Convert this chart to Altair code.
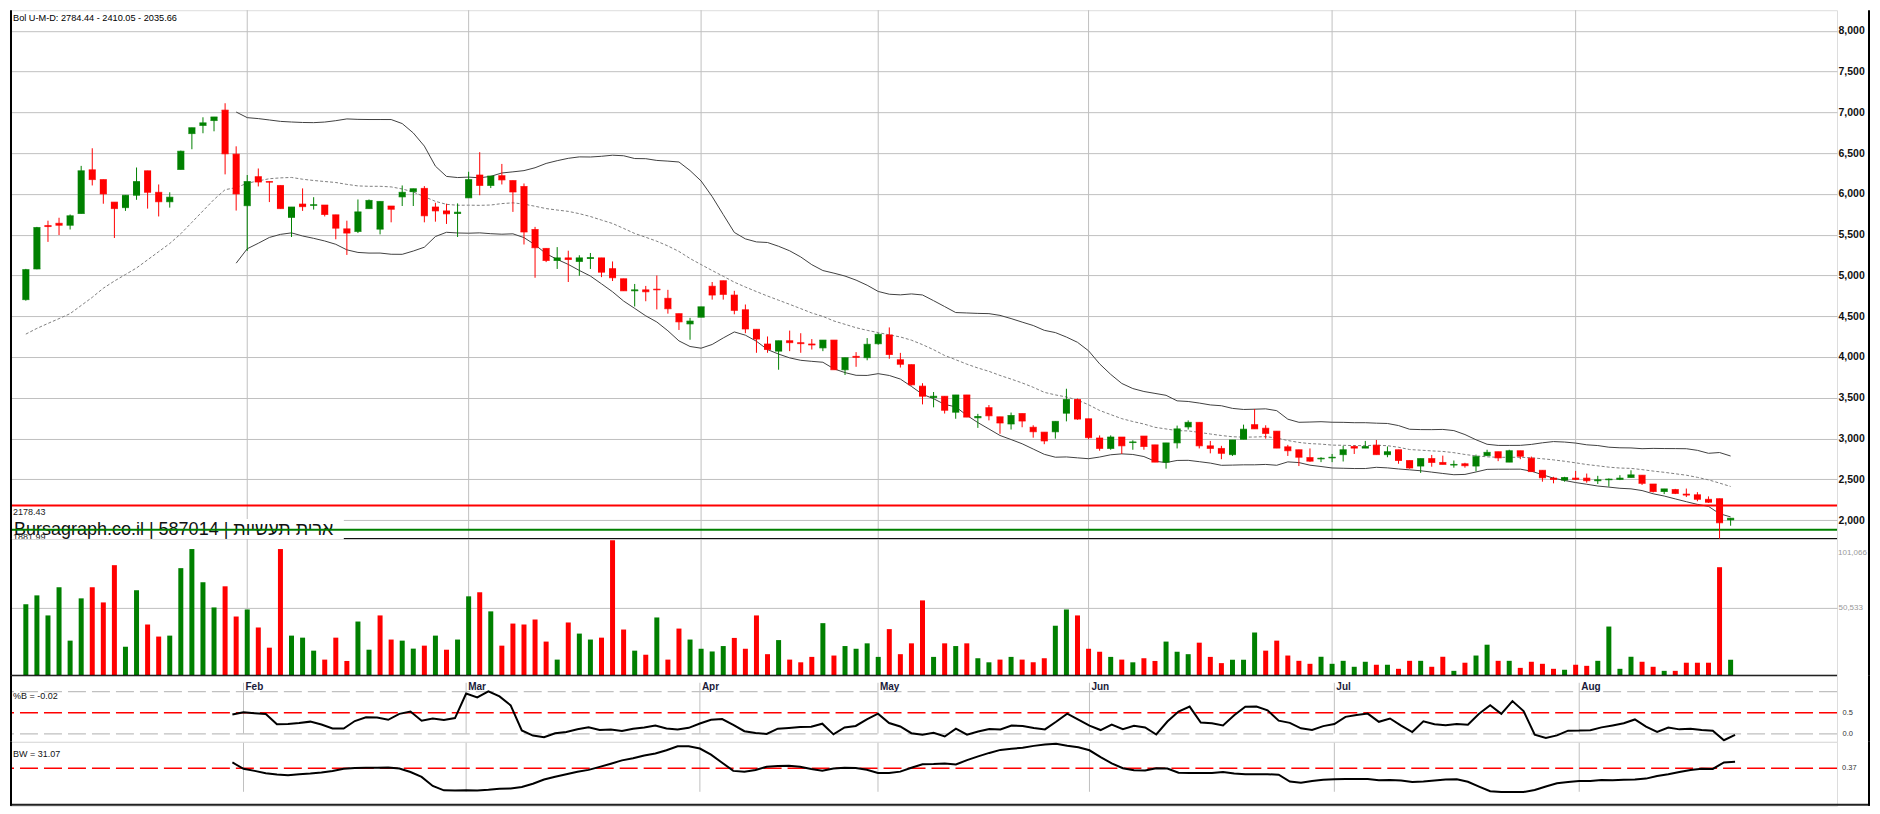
import altair as alt
import pandas as pd

# ---------------- data ----------------
opens = [4703, 5079, 5611, 5639, 5615, 5759, 6295, 6175, 5899, 5831,
         5983, 6283, 6019, 5903, 6299, 6739, 6839, 6899, 7027, 6487,
         5855, 6211, 6151, 6103, 5711, 5875, 5859, 5863, 5743, 5571,
         5539, 5819, 5567, 5851, 5963, 6027, 6067, 5839, 5791, 5759,
         5951, 6231, 6103, 6223, 6163, 6091, 5563, 5331, 5183, 5215,
         5171, 5207, 5215, 5083, 4959, 4811, 4823, 4831, 4719, 4531,
         4405, 4487, 4867, 4935, 4759, 4579, 4339, 4159, 4071, 4199,
         4175, 4159, 4111, 4207, 3843, 4007, 3991, 4162, 4270, 3966,
         3906, 3642, 3502, 3518, 3322, 3534, 3254, 3378, 3266, 3178,
         3306, 3138, 3078, 3082, 3310, 3478, 3242, 3006, 2878, 3018,
         2950, 3030, 2922, 2710, 2946, 3142, 3198, 2910, 2878, 2802,
         2990, 3170, 3126, 3090, 2898, 2862, 2766, 2750, 2762, 2802,
         2902, 2882, 2918, 2802, 2862, 2730, 2662, 2754, 2706, 2674,
         2690, 2662, 2790, 2838, 2710, 2850, 2758, 2610, 2514, 2490,
         2514, 2514, 2482, 2494, 2498, 2522, 2550, 2442, 2350, 2374,
         2318, 2310, 2254, 2262, 2002]
highs = [5080, 5595, 5671, 5707, 5747, 6343, 6559, 6175, 5899, 5983,
         6323, 6283, 6115, 6019, 6530, 6811, 6939, 6943, 7111, 6583,
         6231, 6311, 6151, 6103, 5839, 6067, 5959, 5863, 5743, 5671,
         5931, 5931, 5907, 5851, 6103, 6063, 6095, 5891, 5879, 5883,
         6271, 6511, 6219, 6367, 6163, 6127, 5595, 5331, 5347, 5303,
         5247, 5275, 5215, 5171, 4959, 4895, 4871, 4999, 4823, 4531,
         4479, 4615, 4919, 4935, 4811, 4643, 4339, 4251, 4199, 4323,
         4291, 4219, 4207, 4207, 3991, 4059, 4231, 4290, 4362, 4050,
         3906, 3678, 3570, 3518, 3534, 3534, 3302, 3410, 3266, 3318,
         3306, 3162, 3078, 3210, 3610, 3490, 3242, 3038, 3038, 3018,
         2978, 3030, 2922, 2946, 3158, 3222, 3198, 2970, 2910, 2982,
         3170, 3362, 3162, 3090, 2922, 2862, 2878, 2770, 2810, 2910,
         2918, 2970, 2982, 2902, 2862, 2730, 2754, 2798, 2790, 2730,
         2702, 2802, 2862, 2838, 2862, 2850, 2778, 2610, 2530, 2530,
         2602, 2570, 2542, 2510, 2550, 2610, 2550, 2442, 2382, 2382,
         2386, 2342, 2290, 2262, 2022]
lows = [4690, 5075, 5411, 5495, 5563, 5759, 6103, 5879, 5459, 5791,
        5927, 5819, 5723, 5831, 6299, 6547, 6743, 6767, 6239, 5795,
        5300, 6091, 5899, 5819, 5471, 5791, 5807, 5723, 5443, 5251,
        5519, 5819, 5503, 5651, 5851, 5851, 5651, 5659, 5631, 5471,
        5951, 5983, 6071, 6115, 5779, 5379, 4971, 5163, 5079, 4919,
        4995, 5079, 4979, 4931, 4811, 4619, 4683, 4583, 4531, 4331,
        4211, 4487, 4703, 4703, 4523, 4291, 4051, 4051, 3843, 4071,
        4051, 4091, 4071, 3843, 3779, 3879, 3959, 4150, 3978, 3870,
        3650, 3418, 3382, 3306, 3242, 3262, 3130, 3222, 3058, 3110,
        3138, 3010, 2930, 2998, 3210, 3230, 2990, 2850, 2862, 2810,
        2862, 2862, 2710, 2630, 2878, 3110, 2878, 2818, 2746, 2786,
        2990, 3118, 2998, 2882, 2786, 2662, 2714, 2710, 2710, 2718,
        2810, 2882, 2802, 2770, 2690, 2630, 2578, 2654, 2682, 2642,
        2642, 2598, 2790, 2722, 2710, 2746, 2594, 2470, 2450, 2470,
        2490, 2458, 2442, 2410, 2490, 2522, 2430, 2338, 2318, 2318,
        2282, 2230, 2210, 1770, 1930]
closes = [5071, 5587, 5599, 5615, 5731, 6283, 6175, 5999, 5819, 5983,
          6151, 6019, 5903, 5959, 6523, 6811, 6871, 6943, 6491, 5999,
          6151, 6145, 6143, 5819, 5839, 5843, 5867, 5747, 5579, 5519,
          5779, 5919, 5907, 5811, 6019, 6063, 5731, 5791, 5755, 5775,
          6175, 6103, 6219, 6171, 6023, 5531, 5339, 5183, 5215, 5195,
          5215, 5219, 5039, 4971, 4811, 4823, 4799, 4823, 4591, 4430,
          4440, 4615, 4759, 4767, 4571, 4343, 4219, 4091, 4199, 4175,
          4163, 4147, 4207, 3843, 3991, 3995, 4155, 4278, 4030, 3910,
          3658, 3518, 3518, 3346, 3534, 3262, 3270, 3278, 3190, 3282,
          3214, 3082, 2970, 3210, 3478, 3238, 3010, 2878, 3018, 2910,
          2958, 2902, 2710, 2946, 3118, 3198, 2910, 2878, 2818, 2982,
          3114, 3118, 3062, 2882, 2850, 2770, 2722, 2758, 2770, 2862,
          2882, 2902, 2802, 2838, 2730, 2638, 2754, 2706, 2682, 2682,
          2666, 2778, 2830, 2762, 2850, 2782, 2594, 2518, 2498, 2522,
          2498, 2482, 2494, 2502, 2514, 2554, 2450, 2350, 2382, 2326,
          2306, 2254, 2218, 1966, 2022]
volumes_k = [52.8, 59.4, 44.6, 65.4, 26.0, 57.2, 65.4, 54.2, 81.7, 21.5,
             63.2, 37.9, 29.0, 29.7, 79.5, 93.6, 69.1, 50.5, 66.1, 43.8,
             49.0, 35.7, 20.8, 93.6, 29.7, 28.2, 18.6, 12.0, 28.2, 11.0,
             40.1, 19.3, 44.6, 26.8, 26.0, 20.1, 22.3, 29.7, 19.3, 26.8,
             58.7, 61.7, 47.6, 22.3, 38.6, 37.9, 41.6, 25.3, 12.0, 39.4,
             31.2, 26.8, 28.2, 100.0, 34.2, 18.6, 15.6, 43.1, 12.0, 34.9,
             26.8, 20.0, 18.0, 22.0, 28.0, 20.0, 44.6, 16.0, 26.4, 12.0,
             10.0, 14.0, 38.9, 15.0, 22.0, 20.0, 24.0, 14.0, 34.5, 16.0,
             24.0, 55.7, 14.0, 24.0, 22.0, 24.0, 13.0, 10.0, 12.0, 14.0,
             12.0, 10.0, 13.0, 37.0, 49.0, 44.6, 20.0, 17.8, 14.0, 12.0,
             10.0, 13.0, 11.0, 25.3, 17.8, 16.0, 24.5, 14.0, 9.4, 11.9,
             11.9, 32.0, 18.6, 26.0, 15.0, 11.1, 8.9, 14.1, 8.9, 11.1,
             6.7, 10.4, 8.2, 8.2, 5.2, 11.1, 11.1, 6.7, 14.1, 3.7,
             9.7, 15.0, 23.0, 11.1, 11.1, 5.9, 10.4, 8.9, 5.2, 4.5,
             8.2, 7.4, 11.1, 36.4, 5.2, 14.1, 10.4, 6.7, 3.7, 3.7,
             9.7, 9.7, 9.7, 80.2, 11.9]
# middle band shown before the first full 20-day window (uses older history)
jan_mid = [4280, 4350, 4411, 4470, 4531, 4631, 4731, 4843, 4931, 5011,
           5091, 5191, 5291, 5391, 5511, 5651, 5791, 5931, 6051]
month_start = [20, 40, 61, 77, 96, 118, 140]
month_label = ["Feb", "Mar", "Apr", "May", "Jun", "Jul", "Aug"]
price_ticks = [2000, 2500, 3000, 3500, 4000, 4500, 5000, 5500, 6000, 6500, 7000, 7500, 8000]
volume_ticks = [50533, 101066]
level_values = [2178.43, 1881.99]
pb_guides = [1.0, 0.0]
pb_mid_guide = [0.5]
pb_tick_values = [0.0, 0.5]
bw_guide = [0.266]
bw_guide_label = ["0.37"]
title_text = "Bol U-M-D: 2784.44 - 2410.05 - 2035.66"
pb_text = "%B = -0.02"
bw_text = "BW = 31.07"
watermark = "Bursagraph.co.il | 587014 | ארית תעשיות"

# ---------------- derived indicators (Bollinger 20, 2) ----------------
n = len(closes)
idx = list(range(n))
c = pd.Series(closes, dtype=float)
mid = c.rolling(20).mean()
sd = c.rolling(20).std(ddof=0)
upper = mid + 2 * sd
lower = mid - 2 * sd
mid_line = mid.copy()
mid_line.iloc[:len(jan_mid)] = jan_mid
pctb = (c - lower) / (upper - lower)
bwid = (upper - lower) / mid
prev = c.shift(1)
prev.iloc[0] = c.iloc[0]

candles = pd.DataFrame({
    "i": idx, "open": opens, "high": highs, "low": lows, "close": closes,
    "vol": [v * 1000 for v in volumes_k],
    "dir": ["up" if cl >= op else "down" for op, cl in zip(opens, closes)],
    "vdir": ["up" if c.iloc[k] >= prev.iloc[k] else "down" for k in range(n)],
})
bands = pd.concat([
    pd.DataFrame({"i": idx, "v": upper, "band": "upper"}),
    pd.DataFrame({"i": idx, "v": lower, "band": "lower"}),
]).dropna()
midf = pd.DataFrame({"i": idx, "v": mid_line}).dropna()
ind = pd.DataFrame({"i": idx, "pb": pctb, "bw": bwid}).dropna()
months = pd.DataFrame({"i": month_start, "label": month_label})
one = pd.DataFrame({"a": [0]})

# ---------------- style / layout ----------------
GREEN = "#008000"
RED = "#ff0000"
GRID = "#c0c0c0"
FONT = "Liberation Sans"
W = 1828
HP, HV, HB, HW = 529, 137, 66, 64
RIGHT = W + 32

xs = alt.Scale(domain=[-0.979, 163.16], nice=False, zero=False)
X = alt.X("i:Q", scale=xs, axis=None)
dir_color = alt.Color("dir:N", scale=alt.Scale(domain=["up", "down"], range=[GREEN, RED]), legend=None)
vdir_color = alt.Color("vdir:N", scale=alt.Scale(domain=["up", "down"], range=[GREEN, RED]), legend=None)


def frame(h):
    left = alt.Chart(one).mark_rule(color="#000", strokeWidth=2).encode(
        x=alt.value(1), y=alt.value(0), y2=alt.value(h))
    right = alt.Chart(one).mark_rule(color="#000", strokeWidth=2).encode(
        x=alt.value(RIGHT), y=alt.value(0), y2=alt.value(h))
    return [left, right]


# ---- price panel ----
yP = alt.Scale(domain=[1768.3, 8252], nice=False, zero=False)
price_axis = alt.Axis(orient="right", values=price_ticks, format=",d", grid=True, gridColor=GRID,
                      gridWidth=1, ticks=False, domain=False, labelPadding=1, labelFontSize=10.5,
                      labelFontWeight="bold", labelColor="#111", title=None)


def PY(field):
    return alt.Y(field, scale=yP, axis=price_axis)


p_months = alt.Chart(months).mark_rule(color=GRID, strokeWidth=1).encode(x=X)
p_bands = alt.Chart(bands).mark_line(color="#404040", strokeWidth=1).encode(
    x=X, y=PY("v:Q"), detail="band:N")
p_mid = alt.Chart(midf).mark_line(color="#808080", strokeWidth=1, strokeDash=[3, 2]).encode(
    x=X, y=PY("v:Q"))
p_bottom = alt.Chart(one).mark_rule(color="#000", strokeWidth=2).encode(
    x=alt.value(0), x2=alt.value(W), y=alt.value(HP))
p_box = alt.Chart(one).mark_rect(color="white").encode(
    x=alt.value(0), x2=alt.value(334), y=alt.value(509), y2=alt.value(HP + 1.5))
p_wm = alt.Chart(one).mark_text(text=watermark, align="left", baseline="middle", fontSize=18,
                                color="#111").encode(x=alt.value(4), y=alt.value(520))
lv_red = alt.Chart(pd.DataFrame({"v": [level_values[0]]}))
lv_green = alt.Chart(pd.DataFrame({"v": [level_values[1]]}))
p_red = lv_red.mark_rule(color=RED, strokeWidth=2).encode(y=PY("v:Q"))
p_green = lv_green.mark_rule(color=GREEN, strokeWidth=2).encode(y=PY("v:Q"))
p_lvl_txt = alt.Chart(pd.DataFrame({"v": level_values})).mark_text(
    align="left", baseline="middle", dy=7, fontSize=9, color="#222").encode(
    x=alt.value(3), y=PY("v:Q"), text=alt.Text("v:Q", format=".2f"))
p_wick = alt.Chart(candles).mark_rule(strokeWidth=1).encode(
    x=X, y=PY("low:Q"), y2="high:Q", color=dir_color)
p_body = alt.Chart(candles).mark_bar(size=7).encode(
    x=X, y=PY("open:Q"), y2="close:Q", color=dir_color)
p_tick = alt.Chart(candles).transform_fold(["open", "close"], as_=["k", "pv"]).mark_tick(
    orient="horizontal", size=7, thickness=1).encode(
    x=X, y=PY("pv:Q"), color=dir_color)
p_title = alt.Chart(one).mark_text(text=title_text, align="left", baseline="middle", fontSize=9.2,
                                   color="#000").encode(x=alt.value(3), y=alt.value(7.3))

price = alt.layer(p_months, p_bands, p_mid, p_bottom, p_box, p_wm, p_red, p_green, p_lvl_txt,
                  p_wick, p_body, p_tick, p_title, *frame(HP)).properties(width=W, height=HP)

# ---- volume panel ----
yV = alt.Scale(domain=[0, 101066], nice=False, zero=True)
vol_axis = alt.Axis(orient="right", values=[volume_ticks[0]], format=",d", grid=True, gridColor=GRID,
                    ticks=False, domain=False, labelPadding=1, labelFontSize=8, labelColor="#999",
                    title=None)
v_months = alt.Chart(months).mark_rule(color=GRID, strokeWidth=1).encode(x=X)
v_bars = alt.Chart(candles).mark_bar(size=5).encode(
    x=X, y=alt.Y("vol:Q", scale=yV, axis=vol_axis), color=vdir_color)
v_bottom = alt.Chart(one).mark_rule(color="#000", strokeWidth=2).encode(
    x=alt.value(0), x2=alt.value(W), y=alt.value(HV))
v_top_lbl = alt.Chart(pd.DataFrame({"v": [volume_ticks[1]]})).mark_text(
    align="left", baseline="middle", fontSize=8, color="#999").encode(
    x=alt.value(W + 1), y=alt.value(14.5), text=alt.Text("v:Q", format=",d"))
volume = alt.layer(v_months, v_bars, v_bottom, v_top_lbl, *frame(HV)).properties(width=W, height=HV)

# ---- %B panel ----
yB = alt.Scale(domain=[-0.186, 1.372], nice=False, zero=False)
pb_axis = alt.Axis(orient="right", values=pb_tick_values, format=".1f", grid=False, ticks=False,
                   domain=False, labelPadding=5, labelFontSize=7.5, labelColor="#333", title=None)


def BY(field):
    return alt.Y(field, scale=yB, axis=pb_axis)


b_months = alt.Chart(months).mark_rule(color=GRID, strokeWidth=1).encode(
    x=X, y=alt.value(6.9), y2=alt.value(57.8))
b_gray = alt.Chart(pd.DataFrame({"v": pb_guides})).mark_rule(
    color=GRID, strokeWidth=1.2, strokeDash=[18, 6]).encode(y=BY("v:Q"))
b_red = alt.Chart(pd.DataFrame({"v": pb_mid_guide})).mark_rule(
    color=RED, strokeWidth=1.5, strokeDash=[18, 6]).encode(y=BY("v:Q"))
b_line = alt.Chart(ind).mark_line(color="#000", strokeWidth=2, clip=True).encode(
    x=X, y=BY("pb:Q"))
b_mlbl = alt.Chart(months).mark_text(align="left", baseline="middle", dx=2, fontSize=10,
                                     fontWeight="bold", color="#1a1a3a").encode(
    x=X, y=alt.value(11.5), text="label:N")
b_txt = alt.Chart(one).mark_text(text=pb_text, align="left", baseline="middle", fontSize=9,
                                 color="#111").encode(x=alt.value(3), y=alt.value(20.3))
pbpanel = alt.layer(b_months, b_gray, b_red, b_line, b_mlbl, b_txt, *frame(HB)).properties(
    width=W, height=HB)

# ---- BW panel ----
yW = alt.Scale(domain=[0.012, 0.445], nice=False, zero=False)
w_months = alt.Chart(months).mark_rule(color=GRID, strokeWidth=1).encode(
    x=X, y=alt.value(1), y2=alt.value(50))
w_red = alt.Chart(pd.DataFrame({"v": bw_guide})).mark_rule(
    color=RED, strokeWidth=1.5, strokeDash=[18, 6]).encode(y=alt.Y("v:Q", scale=yW, axis=None))
w_line = alt.Chart(ind).mark_line(color="#000", strokeWidth=2, clip=True).encode(
    x=X, y=alt.Y("bw:Q", scale=yW, axis=None))
w_txt = alt.Chart(one).mark_text(text=bw_text, align="left", baseline="middle", fontSize=9,
                                 color="#111").encode(x=alt.value(3), y=alt.value(12))
w_lbl = alt.Chart(pd.DataFrame({"v": bw_guide, "t": bw_guide_label})).mark_text(
    align="left", baseline="middle", fontSize=7.5, color="#333").encode(
    x=alt.value(W + 5), y=alt.Y("v:Q", scale=yW, axis=None), text="t:N")
w_bottom = alt.Chart(one).mark_rule(color="#222", strokeWidth=2).encode(
    x=alt.value(0), x2=alt.value(RIGHT + 1), y=alt.value(HW - 1))
bwpanel = alt.layer(w_months, w_red, w_line, w_txt, w_lbl, w_bottom, *frame(HW)).properties(
    width=W, height=HW)

chart = alt.vconcat(price, volume, pbpanel, bwpanel, spacing=0, bounds="flush").properties(
    padding=0, background="white"
).configure_view(stroke=None).configure(font=FONT)

chart.save("out.html", embed_options={"renderer": "svg", "actions": False})
